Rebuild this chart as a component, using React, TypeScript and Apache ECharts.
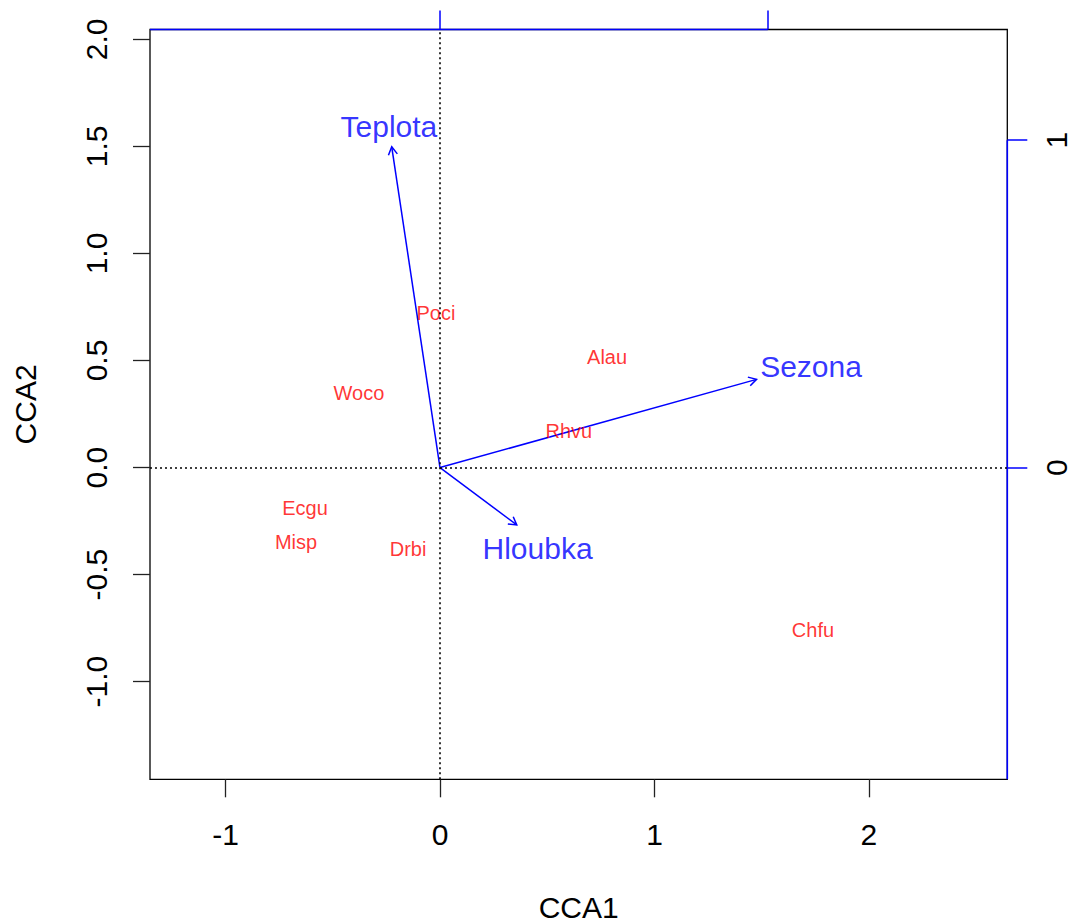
import React, { useEffect, useRef } from "react";
import * as echarts from "echarts";

// ---- data ----
const species = ["Poci", "Alau", "Woco", "Rhvu", "Ecgu", "Misp", "Drbi", "Chfu"];
const speciesX = [-0.019, 0.779, -0.378, 0.601, -0.629, -0.671, -0.149, 1.739];
const speciesY = [0.721, 0.516, 0.348, 0.172, -0.189, -0.348, -0.38, -0.759];

const envVars = ["Teplota", "Sezona", "Hloubka"];
const arrowX = [-0.225, 1.476, 0.358];
const arrowY = [1.498, 0.412, -0.268];
const envLabelX = [-0.238, 1.73, 0.455];
const envLabelY = [1.594, 0.474, -0.38];

const xTicks = [-1, 0, 1, 2];
const yTicks = [-1, -0.5, 0, 0.5, 1, 1.5, 2];
const topTicks = [0, 1];
const rightTicks = [0, 1];

// axis ranges
const xMin = -1.352, xMax = 2.645;
const yMin = -1.456, yMax = 2.046;
const x2Min = -0.885, x2Max = 1.731;
const y2Min = -0.952, y2Max = 1.338;

const FONT = "'Liberation Sans', Arial, sans-serif";
const BLUE = "#0000ff";

export default function App() {
  const ref = useRef<HTMLDivElement>(null);
  useEffect(() => {
    if (!ref.current) return;
    const chart = echarts.init(ref.current, null, { renderer: "svg" });
    const option: any = {
      animation: false,
      backgroundColor: "#ffffff",
      textStyle: { fontFamily: FONT },
      grid: {
        left: 150,
        right: 65.7,
        top: 29.5,
        bottom: 143.7,
        show: true,
        borderColor: "#000",
        borderWidth: 1.3,
        backgroundColor: "transparent",
        containLabel: false,
        outerBoundsMode: "none",
      },
      xAxis: [
        {
          type: "value",
          position: "bottom",
          min: xMin,
          max: xMax,
          splitLine: { show: false },
          axisLine: { show: false, onZero: false },
          axisTick: { show: true, customValues: xTicks, length: 18, lineStyle: { color: "#222", width: 1.3 } },
          axisLabel: {
            customValues: xTicks,
            fontSize: 30,
            color: "#000",
            margin: 40,
            fontFamily: FONT,
            formatter: (v: number) => String(v),
          },
          name: "CCA1",
          nameLocation: "middle",
          nameGap: 113,
          nameTextStyle: { fontSize: 30, color: "#000", fontFamily: FONT },
        },
        {
          type: "value",
          position: "top",
          min: x2Min,
          max: x2Max,
          splitLine: { show: false },
          axisLine: { show: false, onZero: false },
          axisTick: { show: true, customValues: topTicks, length: 19, lineStyle: { color: BLUE, width: 1.5 } },
          axisLabel: { show: false },
        },
      ],
      yAxis: [
        {
          type: "value",
          position: "left",
          min: yMin,
          max: yMax,
          splitLine: { show: false },
          axisLine: { show: false, onZero: false },
          axisTick: { show: true, customValues: yTicks, length: 17, lineStyle: { color: "#222", width: 1.3 } },
          axisLabel: {
            customValues: yTicks,
            rotate: 90,
            fontSize: 30,
            color: "#000",
            margin: 39,
            fontFamily: FONT,
            formatter: (v: number) => v.toFixed(1),
          },
          name: "CCA2",
          nameLocation: "middle",
          nameGap: 110,
          nameTextStyle: { fontSize: 30, color: "#000", fontFamily: FONT },
        },
        {
          type: "value",
          position: "right",
          min: y2Min,
          max: y2Max,
          splitLine: { show: false },
          axisLine: { show: false, onZero: false },
          axisTick: { show: true, customValues: rightTicks, length: 20, lineStyle: { color: BLUE, width: 1.5 } },
          axisLabel: {
            customValues: rightTicks,
            rotate: 90,
            fontSize: 30,
            lineHeight: 30,
            color: "#000",
            margin: 34,
            fontFamily: FONT,
            formatter: (v: number) => String(v),
          },
        },
      ],
      series: [
        // blue secondary axis lines
        {
          type: "line",
          xAxisIndex: 1,
          yAxisIndex: 1,
          clip: false,
          symbol: "none",
          silent: true,
          lineStyle: { color: BLUE, width: 1.6 },
          data: [
            [x2Min, y2Max],
            [topTicks[topTicks.length - 1], y2Max],
          ],
        },
        {
          type: "line",
          xAxisIndex: 1,
          yAxisIndex: 1,
          clip: false,
          symbol: "none",
          silent: true,
          lineStyle: { color: BLUE, width: 1.6 },
          data: [
            [x2Max, rightTicks[rightTicks.length - 1]],
            [x2Max, y2Min],
          ],
        },
        // dotted zero lines
        {
          type: "scatter",
          data: [],
          markLine: {
            symbol: "none",
            silent: true,
            label: { show: false },
            lineStyle: { color: "#000", width: 1.6, type: [2, 3] },
            data: [{ xAxis: 0 }, { yAxis: 0 }],
          },
        },
        // species labels
        {
          type: "scatter",
          symbolSize: 0,
          data: species.map((s, i) => ({ name: s, value: [speciesX[i], speciesY[i]] })),
          label: {
            show: true,
            position: "inside",
            formatter: (p: any) => p.name,
            color: "#ff0000",
            fontSize: 20,
            fontFamily: FONT,
          },
        },
        // biplot arrows
        {
          type: "custom",
          data: envVars.map((v, i) => [arrowX[i], arrowY[i]]),
          renderItem: (params: any, api: any) => {
            const o = api.coord([0, 0]);
            const t = api.coord([api.value(0), api.value(1)]);
            const ang = Math.atan2(t[1] - o[1], t[0] - o[0]);
            const L = 9;
            const a = Math.PI / 6;
            const p1 = [t[0] - L * Math.cos(ang - a), t[1] - L * Math.sin(ang - a)];
            const p2 = [t[0] - L * Math.cos(ang + a), t[1] - L * Math.sin(ang + a)];
            return {
              type: "group",
              children: [
                { type: "line", shape: { x1: o[0], y1: o[1], x2: t[0], y2: t[1] }, style: { stroke: BLUE, lineWidth: 1.5 } },
                { type: "polyline", shape: { points: [p1, t, p2] }, style: { stroke: BLUE, lineWidth: 1.5, fill: null } },
              ],
            };
          },
        },
        // biplot labels
        {
          type: "scatter",
          symbolSize: 0,
          data: envVars.map((s, i) => ({ name: s, value: [envLabelX[i], envLabelY[i]] })),
          label: {
            show: true,
            position: "inside",
            formatter: (p: any) => p.name,
            color: BLUE,
            fontSize: 30,
            fontFamily: FONT,
          },
        },
      ],
    };
    chart.setOption(option);
    return () => chart.dispose();
  }, []);
  return (
    <div
      ref={ref}
      style={{ position: "absolute", left: 0, top: 0, width: 1073, height: 923, background: "#fff" }}
    />
  );
}
